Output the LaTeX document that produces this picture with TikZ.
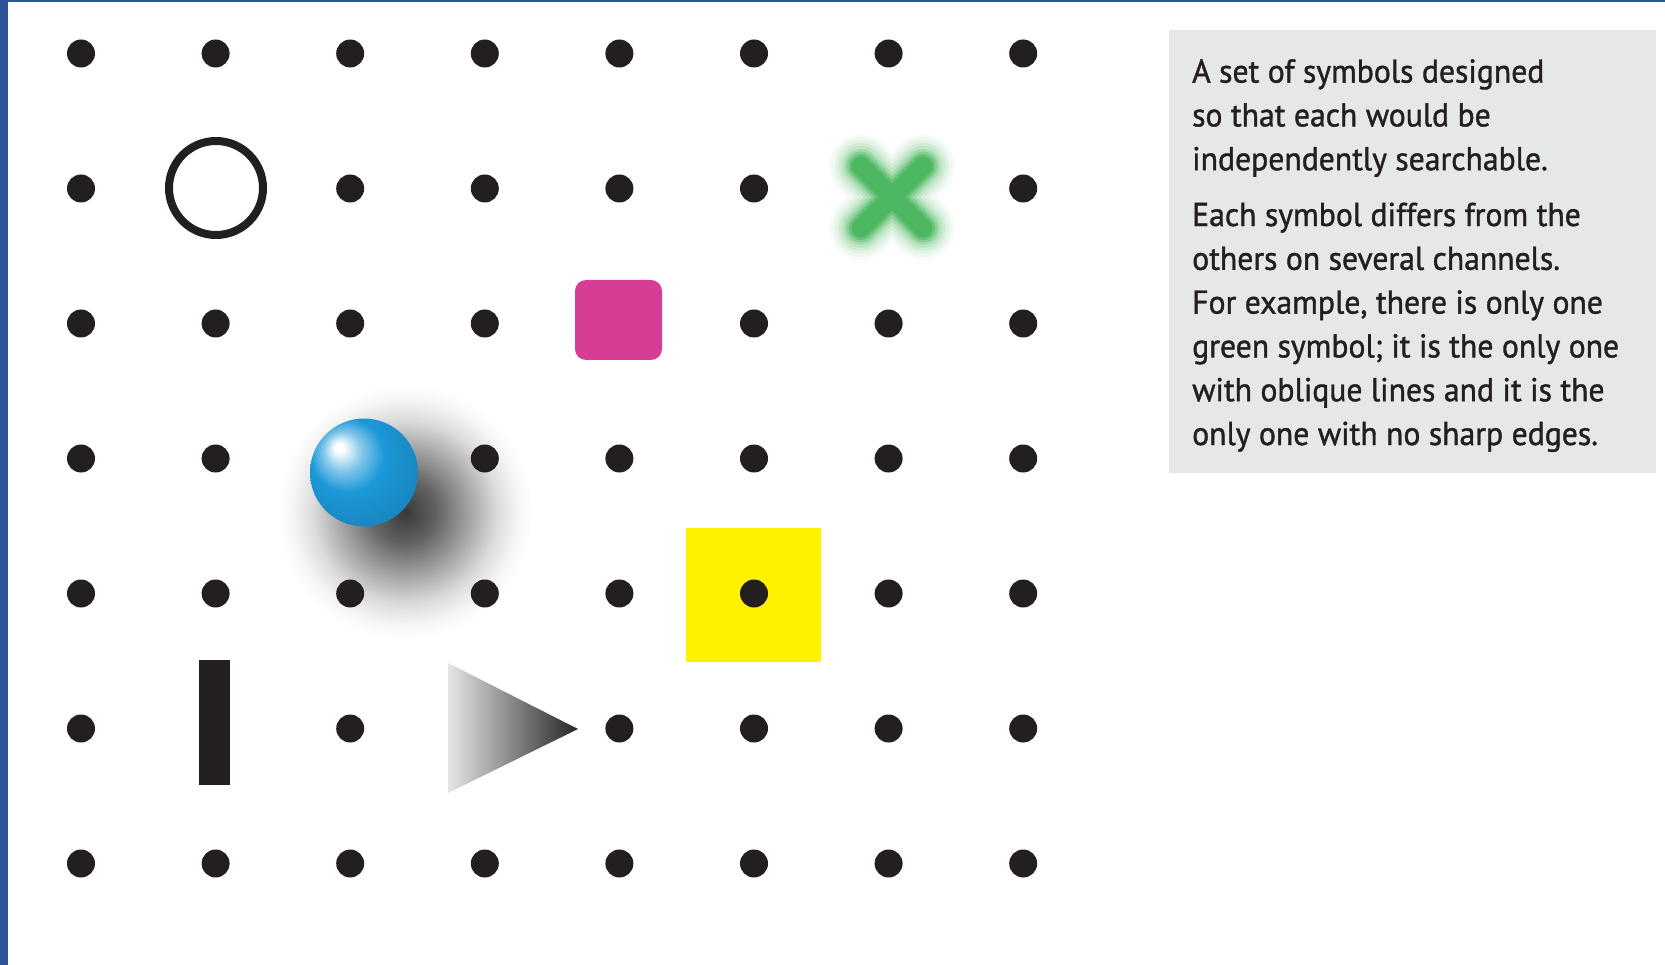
\documentclass[tikz,border=0pt]{standalone}
\usepackage{fontspec}
\newfontfamily\boxfont[FakeStretch=0.96,FakeBold=1.2]{PT Sans}
\definecolor{edgeblue}{HTML}{2C5596}
\definecolor{ink}{HTML}{231F20}
\definecolor{panelgray}{HTML}{E6E7E8}
\definecolor{xgreen}{HTML}{4DB861}
\definecolor{pink}{HTML}{D83D96}
\definecolor{sph}{HTML}{1C98D8}
\definecolor{yel}{HTML}{FFF200}
\pgfdeclareradialshading{spheresh}{\pgfpoint{-12bp}{12bp}}{color(0bp)=(white); color(2bp)=(white); color(9bp)=(sph!55!white); color(17bp)=(sph); color(32bp)=(sph!88!black); color(50bp)=(sph!88!black)}
\pgfdeclareradialshading{shadowsh}{\pgfpoint{0bp}{0bp}}{color(0bp)=(black!78); color(6bp)=(black!62); color(12bp)=(black!38); color(18bp)=(black!14); color(22bp)=(black!4); color(25bp)=(white); color(50bp)=(white)}
\begin{document}
\begin{tikzpicture}[x=1pt,y=-1pt,
  dot/.style={circle,fill=ink,inner sep=0pt,minimum size=28pt},
  panel/.style={fill=panelgray,inner sep=0pt,minimum width=487pt,minimum height=443pt},
  blurx/.style={draw=xgreen,line cap=round}]
\useasboundingbox (0,0) rectangle (1665,965);
% frame edges
\fill[edgeblue] (0,0) rectangle (8,965);
\fill[edgeblue] (0,0) rectangle (1665,2.5);
% text panel
\node[panel] (panel) at (1412.5,251.5) {};
\node[anchor=base west,align=left,inner sep=0pt,text=ink,
      font=\boxfont\fontsize{33}{43.8}\selectfont] (txt) at (1192,445)
  {A set of symbols designed\\
   so that each would be\\
   independently searchable.\\[12pt]
   Each symbol differs from the\\
   others on several channels.\\
   For example, there is only one\\
   green symbol; it is the only one\\
   with oblique lines and it is the\\
   only one with no sharp edges.};
% shadow of the sphere
\shade[shading=shadowsh] (405,512) circle (128);
% yellow square
\node[fill=yel,inner sep=0pt,minimum width=135pt,minimum height=134pt] (yellow) at (753.5,595) {};
% dots
\foreach \r/\cols in {0/{0,1,2,3,4,5,6,7},1/{0,2,3,4,5,7},2/{0,1,2,3,5,6,7},3/{0,1,3,4,5,6,7},4/{0,1,2,3,4,5,6,7},5/{0,2,4,5,6,7},6/{0,1,2,3,4,5,6,7}}
  \foreach \c in \cols
    \node[dot] (d\r\c) at ({81+134.6*\c},{53.5+135*\r}) {};
% open circle
\node[circle,draw=ink,line width=8pt,inner sep=0pt,minimum size=94pt] (ring) at (216,188) {};
% blurred green X
\coordinate (xc) at (892,197);
\foreach \w/\o in {64/0.04,58/0.06,52/0.08,46/0.11,40/0.15,34/0.22,29/0.34,24/0.55,19/1}
  \draw[blurx,line width=\w pt,opacity=\o]
    ([shift={(-31,-31)}]xc) -- ([shift={(31,31)}]xc)
    ([shift={(-31,31)}]xc) -- ([shift={(31,-31)}]xc);
% pink rounded square
\node[fill=pink,rounded corners=11pt,inner sep=0pt,minimum width=87pt,minimum height=80pt] (pinkbox) at (618.5,320) {};
% blue sphere
\shade[shading=spheresh] (364,472.5) circle (54);
% black bar
\node[fill=ink,inner sep=0pt,minimum width=30.5pt,minimum height=125pt] (bar) at (214.7,722.5) {};
% shaded triangle
\shade[left color=black!10,right color=black!85] (448,663) -- (578,729) -- (448,793) -- cycle;
\end{tikzpicture}
\end{document}
